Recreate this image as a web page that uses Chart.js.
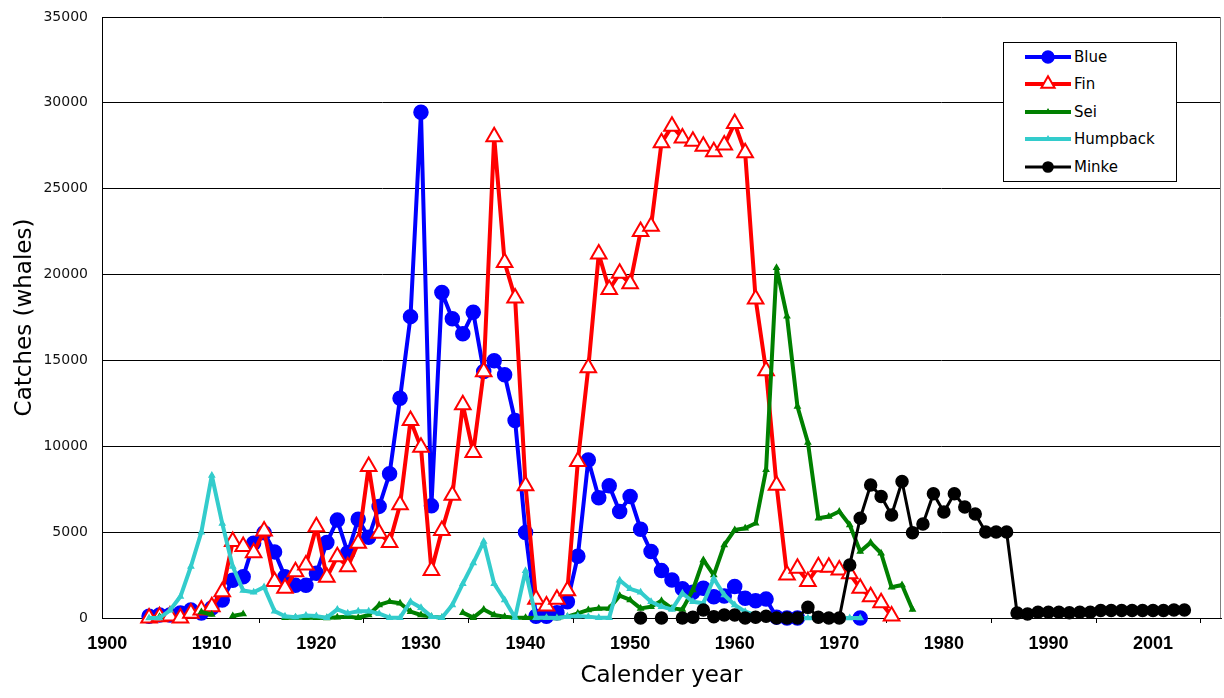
<!DOCTYPE html>
<html>
<head>
<meta charset="utf-8">
<title>Whale catches</title>
<script src="https://cdn.jsdelivr.net/npm/chart.js@4.4.1/dist/chart.umd.min.js"></script>
<style>
  html, body { margin: 0; padding: 0; background: #fff; }
  #wrap { position: relative; width: 1224px; height: 698px; }
  #legend {
    position: absolute; left: 1003px; top: 42px;
    width: 172px; height: 138px;
    border: 1px solid #000; background: #fff;
    font-family: "DejaVu Sans", sans-serif; font-size: 15px; color: #000;
  }
  #legend .item { display: flex; align-items: center; height: 27.5px; }
  #legend svg { margin-left: 21px; margin-right: 3px; }
</style>
</head>
<body>
<div id="wrap">
  <canvas id="grafico" width="1224" height="698"></canvas>
  <div id="legend"></div>
</div>
<script>
// valores (baleias capturadas por ano)
const blueStart = 1904;
const blue = [100, 170, 170, 290, 470, 290, 580, 1050, 2200, 2400,
  4350, 4970, 3850, 2400, 1900, 1900, 2600, 4400, 5700, 3800,
  5750, 4700, 6500, 8400, 12800, 17550, 29450, 6530, 18950, 17430,
  16550, 17800, 14360, 14980, 14170, 11500, 4975, 100, 100, 300,
  950, 3600, 9200, 7000, 7700, 6200, 7070, 5170, 3870, 2760,
  2210, 1700, 1500, 1730, 1240, 1280, 1830, 1150, 1000, 1100,
  50, 0, 0, null, null, null, null, null, 0];

const finStart = 1904;
const fin = [0, 80, 120, 0, 270, 470, 660, 1530, 4450, 4160,
  3800, 5060, 2120, 1730, 2700, 3090, 5320, 2370, 3570, 2990,
  4350, 8820, 4940, 4390, 6590, 11500, 9950, 2760, 5090, 7150,
  12420, 9640, 14340, 28020, 20710, 18640, 7700, 1090, 700, 1090,
  1590, 9110, 14570, 21200, 19130, 20070, 19460, 22510, 22810, 27670,
  28640, 27960, 27770, 27480, 27150, 27540, 28800, 27090, 18580, 14400,
  7730, 2500, 2900, 2120, 2990, 2950, 2800, 2570, 1730, 1240,
  890, 120];

const seiStart = 1905;
const sei = [80, null, null, null, 350, 200, null, 120, 230, null,
  null, null, 20, 20, 20, 20, 0, 40, 80, 20,
  175, 760, 950, 860, 370, 175, 80, 20, null, 310,
  20, 500, 175, 80, 20, 20, 0, 20, 0, 80,
  270, 470, 560, 560, 1300, 1050, 560, 660, 1000, 560,
  500, 1630, 3380, 2500, 4250, 5130, 5230, 5520, 8630, 20390,
  17570, 12320, 10220, 5810, 5910, 6200, 5420, 3870, 4390, 3770,
  1790, 1920, 500];

const humpbackStart = 1904;
const humpback = [0, 0, 450, 1250, 3000, 5000, 8300, 5500, 3000, 1600,
  1500, 1800, 400, 100, 50, 150, 110, 20, 500, 270,
  400, 400, 250, 20, 20, 950, 600, 80, 20, 760,
  2000, 3200, 4450, 2000, 1050, 20, 2750, 20, 20, 0,
  80, 110, 80, 20, 20, 2200, 1700, 1500, 950, 660,
  500, 1440, 950, 860, 2300, 1340, 760, 370, 175, 50,
  20, 0, 0, 0, 0, 0, 0, 0, 0];

const minkeStart = 1951;
const minke = [0, null, 0, null, 0, 50, 470, 80, 175, 175,
  0, 40, 100, 0, 0, 0, 620, 40, 0, 0,
  3090, 5810, 7750, 7070, 6000, 7950, 4970, 5480, 7230, 6180,
  7230, 6470, 6060, 5010, 5010, 5010, 290, 230, 330, 330,
  330, 300, 330, 330, 440, 440, 440, 440, 440, 440,
  440, 470, 470];

const tickYears = [1900, 1910, 1920, 1930, 1940, 1950, 1960, 1970, 1980, 1990, 2000];
const tickLabels = ['1900', '1910', '1920', '1930', '1940', '1950', '1960', '1970', '1980', '1990', '2001'];

function toPoints(start, values) {
  return values.map((v, i) => ({ x: start + i, y: v }));
}

// amostra da legenda (linha + marcador) em SVG
function sampleSvg(ds) {
  const r = ds.pointRadius * 0.85;
  let mark = '';
  if (ds.pointStyle === 'circle') {
    mark = `<circle cx="23" cy="10" r="${r}" fill="${ds.pointBackgroundColor}" stroke="${ds.pointBorderColor}" stroke-width="${ds.pointBorderWidth}"/>`;
  } else {
    const pts = [[23, 10 - r], [23 + 0.866 * r, 10 + 0.5 * r], [23 - 0.866 * r, 10 + 0.5 * r]]
      .map(p => p.join(',')).join(' ');
    mark = `<polygon points="${pts}" fill="${ds.pointBackgroundColor}" stroke="${ds.pointBorderColor}" stroke-width="${ds.pointBorderWidth}"/>`;
  }
  return `<svg width="46" height="20"><line x1="0" y1="10" x2="46" y2="10" stroke="${ds.borderColor}" stroke-width="${ds.borderWidth}"/>${mark}</svg>`;
}

const htmlLegend = {
  id: 'htmlLegend',
  afterUpdate(chart) {
    const box = document.getElementById('legend');
    box.innerHTML = '';
    chart.data.datasets.forEach(ds => {
      const row = document.createElement('div');
      row.className = 'item';
      row.innerHTML = sampleSvg(ds) + '<span>' + ds.label + '</span>';
      box.appendChild(row);
    });
  }
};

// marcas do eixo x (entre os rótulos) e borda direita da área do gráfico
const axisMarks = {
  id: 'axisMarks',
  beforeDatasetsDraw(chart) {
    const { ctx, chartArea, scales: { x } } = chart;
    ctx.save();
    ctx.strokeStyle = '#000';
    ctx.lineWidth = 1;
    x.ticks.forEach(t => {
      const px = Math.round(x.getPixelForValue(t.value + 4.5)) + 0.5;
      if (px < chartArea.right) {
        ctx.beginPath();
        ctx.moveTo(px, chartArea.bottom);
        ctx.lineTo(px, chartArea.bottom + 5);
        ctx.stroke();
      }
    });
    ctx.strokeStyle = '#808080';
    ctx.beginPath();
    ctx.moveTo(Math.round(chartArea.right) - 0.5, chartArea.top);
    ctx.lineTo(Math.round(chartArea.right) - 0.5, chartArea.bottom);
    ctx.stroke();
    ctx.restore();
  }
};

function series(label, color, start, values, style, radius, fill, lineWidth, order) {
  return {
    label: label,
    data: toPoints(start, values),
    borderColor: color,
    backgroundColor: color,
    borderWidth: lineWidth,
    borderJoinStyle: 'round',
    borderCapStyle: 'round',
    pointStyle: style,
    pointRadius: radius,
    pointHoverRadius: radius,
    pointBackgroundColor: fill,
    pointBorderColor: color,
    pointBorderWidth: style === 'triangle' && radius > 5 ? 2 : 1.5,
    tension: 0,
    spanGaps: false,
    clip: false,
    order: order
  };
}

Chart.defaults.font.family = '"DejaVu Sans", sans-serif';
Chart.defaults.color = '#000';

const ctx = document.getElementById('grafico').getContext('2d');
const grafico = new Chart(ctx, {
  type: 'line',
  data: {
    datasets: [
      series('Blue', '#0000FF', blueStart, blue, 'circle', 7, '#0000FF', 4, 4),
      series('Fin', '#FF0000', finStart, fin, 'triangle', 9, '#FFFFFF', 4, 3),
      series('Sei', '#008000', seiStart, sei, 'triangle', 3, '#008000', 4, 2),
      series('Humpback', '#33CCCC', humpbackStart, humpback, 'triangle', 3, '#33CCCC', 4, 1),
      series('Minke', '#000000', minkeStart, minke, 'circle', 6, '#000000', 3, 0)
    ]
  },
  options: {
    responsive: false,
    animation: false,
    devicePixelRatio: 1,
    layout: { autoPadding: false, padding: { top: 17, right: 3, left: 0, bottom: 0 } },
    plugins: {
      legend: { display: false },
      tooltip: { enabled: false }
    },
    scales: {
      x: {
        type: 'linear',
        min: 1899.5,
        max: 2006.5,
        afterBuildTicks: axis => { axis.ticks = tickYears.map(v => ({ value: v })); },
        afterFit: scale => {
          scale.height = 80;
          scale.paddingLeft = 0;
          scale.paddingRight = 0;
        },
        ticks: {
          autoSkip: false,
          maxRotation: 0,
          padding: 15,
          color: '#000',
          font: { family: '"Liberation Sans", Arial, sans-serif', size: 18, weight: 'bold' },
          callback: (value, index) => tickLabels[index]
        },
        grid: { drawOnChartArea: false, drawTicks: false },
        border: { display: true, color: '#000', width: 1 },
        title: {
          display: true,
          text: 'Calender year',
          color: '#000',
          font: { size: 23 },
          padding: { top: 0, bottom: 8 }
        }
      },
      y: {
        min: 0,
        max: 35000,
        afterFit: scale => {
          scale.width = 102;
          scale.paddingTop = 0;
          scale.paddingBottom = 0;
        },
        ticks: {
          stepSize: 5000,
          padding: 14,
          color: '#111',
          font: { size: 14 },
          callback: value => String(value)
        },
        grid: { color: '#000', lineWidth: 1, drawTicks: false },
        border: { display: true, color: '#000', width: 1 },
        title: {
          display: true,
          text: 'Catches (whales)',
          color: '#000',
          font: { size: 23 },
          padding: { top: 11, bottom: 0 }
        }
      }
    }
  },
  plugins: [htmlLegend, axisMarks]
});
</script>
</body>
</html>
